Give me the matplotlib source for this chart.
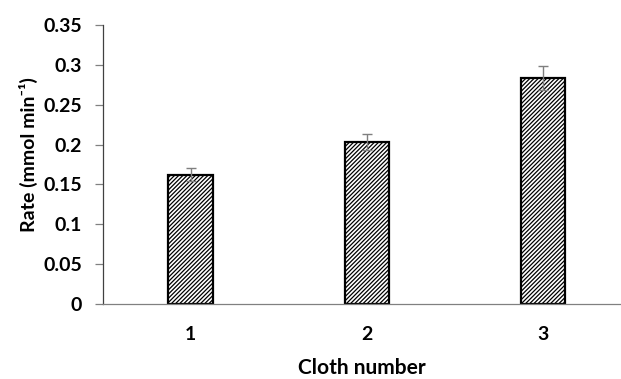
import matplotlib
matplotlib.use("Agg")
import matplotlib.pyplot as plt

plt.rcParams['hatch.linewidth'] = 0.9

cloth = ["1", "2", "3"]
rate = [0.162, 0.2035, 0.284]
rate_err = [0.008, 0.010, 0.015]
yticks = [0, 0.05, 0.1, 0.15, 0.2, 0.25, 0.3, 0.35]
ytick_labels = ["0", "0.05", "0.1", "0.15", "0.2", "0.25", "0.3", "0.35"]

fig = plt.figure(figsize=(6.21, 3.79), dpi=100)
ax = fig.add_axes([103 / 621, 75 / 379, 518 / 621, 279 / 379])

x = [1, 2, 3]
ax.bar(x, rate, width=0.25, facecolor="white", edgecolor="black",
       linewidth=1.6, hatch="////////", zorder=2)
ax.errorbar(x, rate, yerr=rate_err, fmt="none", ecolor="#7f7f7f",
            elinewidth=1.0, capsize=3.3, capthick=1.0, zorder=3)

ax.set_xlim(0.504, 3.44)
ax.set_ylim(0, 0.35)
ax.set_xticks(x)
ax.set_xticklabels(cloth)
ax.set_yticks(yticks)
ax.set_yticklabels(ytick_labels)

for side in ("top", "right"):
    ax.spines[side].set_visible(False)
ax.spines["left"].set_color("#404040")
ax.spines["bottom"].set_color("#808080")
ax.spines["left"].set_linewidth(0.9)
ax.spines["bottom"].set_linewidth(0.9)
ax.tick_params(axis="y", direction="out", length=6, width=0.9, color="#808080", pad=9)
ax.tick_params(axis="x", length=0, pad=16)

for lab in ax.get_xticklabels() + ax.get_yticklabels():
    lab.set_fontfamily("Lato")
    lab.set_fontweight("bold")
    lab.set_fontsize(14)

ax.set_xlabel("Cloth number", labelpad=10.5, family="Lato", weight="bold", size=15)
ax.set_ylabel("Rate (mmol min\u207b\u00b9)",
              family=["Lato", "DejaVu Sans"], weight="bold", size=14)
ax.yaxis.set_label_coords(-0.125, 0.535)

fig.savefig("out.png", dpi=100)
